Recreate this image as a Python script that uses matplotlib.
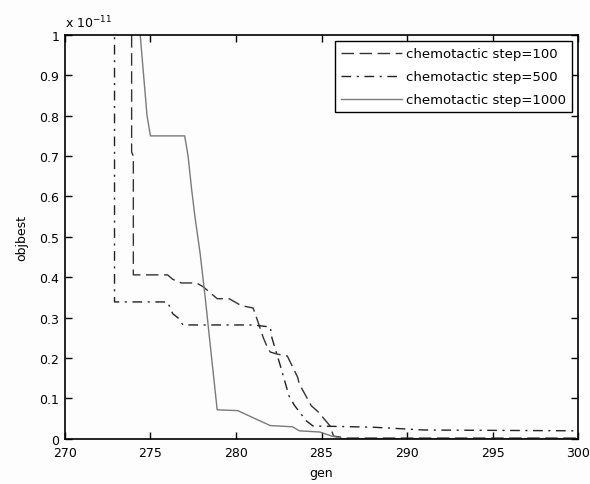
import matplotlib.pyplot as plt
import numpy as np

# chemotactic step = 100 (dashed)
gen_100 = [273.9, 273.9, 274.0, 274.0, 276.0, 276.3, 276.8, 277.7, 278.1, 278.9, 279.6,
           280.3, 281.0, 281.2, 281.6, 281.8, 282.0, 282.4, 283.0, 283.6, 283.7, 284.4,
           284.8, 285.5, 285.7, 286.5, 300.0]
obj_100 = [1.2, 0.71, 0.70, 0.406, 0.406, 0.395, 0.386, 0.386, 0.376, 0.347, 0.347,
           0.33, 0.324, 0.30, 0.25, 0.23, 0.215, 0.21, 0.205, 0.153, 0.136, 0.082,
           0.067, 0.032, 0.007, 0.002, 0.002]

# chemotactic step = 500 (dash-dot)
gen_500 = [272.9, 272.9, 276.0, 276.3, 276.6, 276.9, 281.0, 282.0, 282.1, 282.6, 283.1,
           283.4, 284.1, 284.5, 288.0, 291.0, 300.0]
obj_500 = [1.2, 0.339, 0.339, 0.31, 0.30, 0.282, 0.282, 0.277, 0.25, 0.18, 0.106,
           0.084, 0.045, 0.032, 0.029, 0.022, 0.02]

# chemotactic step = 1000 (solid)
gen_1000 = [274.3, 274.4, 274.6, 274.8, 275.0, 277.0, 277.2, 277.4, 277.6, 277.9, 278.2,
            278.5, 278.9, 280.1, 282.0, 283.3, 283.7, 284.9, 285.6, 286.3, 300.0]
obj_1000 = [1.2, 1.0, 0.9, 0.8, 0.75, 0.75, 0.7, 0.62, 0.55, 0.46, 0.35,
            0.23, 0.072, 0.07, 0.033, 0.03, 0.02, 0.017, 0.007, 0.0, 0.0]

xticks = [270, 275, 280, 285, 290, 295, 300]
yticks = [0, 0.1, 0.2, 0.3, 0.4, 0.5, 0.6, 0.7, 0.8, 0.9, 1]
ytick_labels = ["0", "0.1", "0.2", "0.3", "0.4", "0.5", "0.6", "0.7", "0.8", "0.9", "1"]

fig = plt.figure(figsize=(5.9, 4.85), dpi=100, facecolor="#fdfdfd")
ax = fig.add_axes([0.110, 0.093, 0.870, 0.833])
ax.set_facecolor("#fdfdfd")

ax.plot(gen_100, obj_100, color="#333333", lw=1.0, dashes=(9, 4),
        label="chemotactic step=100")
ax.plot(gen_500, obj_500, color="#222222", lw=1.0, dashes=(7, 4, 1.5, 4),
        label="chemotactic step=500")
ax.plot(gen_1000, obj_1000, color="#7a7a7a", lw=1.0,
        label="chemotactic step=1000")

ax.set_xlim(270, 300)
ax.set_ylim(0, 1)
ax.set_xticks(xticks)
ax.set_yticks(yticks)
ax.set_yticklabels(ytick_labels)
ax.tick_params(direction="in", length=5, width=1, top=True, right=True,
               labelsize=9, pad=4, colors="black")
ax.tick_params(axis="x", pad=5)
for s in ax.spines.values():
    s.set_linewidth(1.2)

ax.set_xlabel("gen", fontsize=9, labelpad=5)
ax.set_ylabel("objbest", fontsize=9, labelpad=8)
ax.text(0.0, 1.012, r"x $10^{-11}$", transform=ax.transAxes, fontsize=9,
        ha="left", va="bottom")

leg = ax.legend(loc="upper right", fontsize=9.5, frameon=True, fancybox=False,
                handlelength=4.6, handletextpad=0.3, borderpad=0.45,
                labelspacing=0.75, borderaxespad=0.5)
leg.get_frame().set_edgecolor("black")
leg.get_frame().set_linewidth(1.0)
leg.get_frame().set_facecolor("white")
leg.get_frame().set_alpha(1)

plt.savefig("out.png", dpi=100, facecolor=fig.get_facecolor())
